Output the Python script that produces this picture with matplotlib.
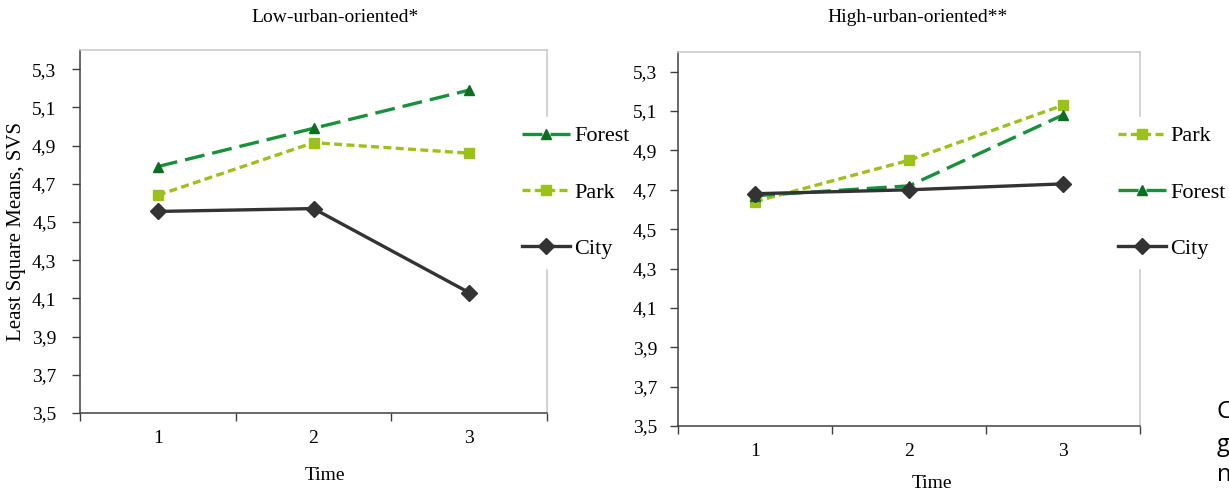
import numpy as np
import matplotlib; matplotlib.use("Agg")
import matplotlib.pyplot as plt
from matplotlib.ticker import FuncFormatter

plt.rcParams["font.family"] = ["Liberation Serif", "DejaVu Serif"]

times = [1, 2, 3]
low_forest = [4.79, 4.99, 5.19]
low_park = [4.64, 4.915, 4.86]
low_city = [4.555, 4.57, 4.13]
high_park = [4.64, 4.85, 5.13]
high_forest = [4.67, 4.72, 5.08]
high_city = [4.68, 4.70, 4.73]
yticks = [3.5, 3.7, 3.9, 4.1, 4.3, 4.5, 4.7, 4.9, 5.1, 5.3]

FOREST = "#17913a"; FOREST_MK = "#0d6e22"
PARK = "#9dc11c"; CITY = "#333333"
W, H = 1229, 492

def style(name):
    if name == "Forest":
        return dict(color=FOREST, lw=2.4, dashes=(6, 2.4), marker="^", ms=7,
                    mfc=FOREST_MK, mec=FOREST_MK)
    if name == "Park":
        return dict(color=PARK, lw=2.4, dashes=(2.4, 1.3), marker="s", ms=7.5,
                    mfc=PARK, mec=PARK)
    return dict(color=CITY, lw=2.4, marker="D", ms=8, mfc=CITY, mec=CITY)

def panel(px, series, ylab, leg_xy, ypad):
    # px = (left, top, right, bottom) of the plot box in figure pixels
    l, t, r, b = px
    ax = fig.add_axes([l / W, 1 - b / H, (r - l) / W, (b - t) / H])
    for name, vals in series:
        ax.plot(times, vals, label=name, **style(name))
    ax.set_xlim(0.5, 3.5); ax.set_ylim(3.5, 5.4)
    ax.set_yticks(yticks)
    ax.yaxis.set_major_formatter(FuncFormatter(lambda v, p: f"{v:.1f}".replace(".", ",")))
    ax.set_xticks([0.5, 1.5, 2.5, 3.5]); ax.set_xticklabels([])
    ax.set_xticks(times, minor=True); ax.set_xticklabels(["1", "2", "3"], minor=True)
    ax.tick_params(axis="x", which="major", direction="out", length=6, width=1, color="#404040")
    ax.tick_params(axis="x", which="minor", length=0, labelsize=14, pad=12)
    ax.tick_params(axis="y", direction="out", length=6, width=1, color="#404040",
                   labelsize=14, pad=ypad)
    for s in ("left", "bottom"):
        ax.spines[s].set_color("#404040"); ax.spines[s].set_linewidth(1.1)
    for s in ("top", "right"):
        ax.spines[s].set_color("#c8c8c8"); ax.spines[s].set_linewidth(1.1)
    if ylab:
        ax.set_ylabel(ylab, fontsize=15)
        ax.yaxis.set_label_coords((26 - l) / (r - l), 0.5)
    ax.legend(loc="upper left", bbox_to_anchor=(leg_xy[0] / W, 1 - leg_xy[1] / H),
              bbox_transform=fig.transFigure, frameon=True, fancybox=False,
              edgecolor="white", framealpha=1, fontsize=16, handlelength=2.15,
              handletextpad=0.2, labelspacing=1.6, borderpad=0.4, borderaxespad=0)
    return ax

fig = plt.figure(figsize=(W / 100, H / 100), dpi=100)

panel((80, 50, 547, 413),
      [("Forest", low_forest), ("Park", low_park), ("City", low_city)],
      "Least Square Means, SVS", (513, 117), 11)
panel((678, 52, 1140, 426),
      [("Park", high_park), ("Forest", high_forest), ("City", high_city)],
      None, (1109, 117), 9)

fig.text(335 / W, 1 - 17 / H, "Low-urban-oriented*", ha="center", va="center", fontsize=14)
fig.text(918 / W, 1 - 17 / H, "High-urban-oriented**", ha="center", va="center", fontsize=14)
fig.text(325 / W, 1 - 475 / H, "Time", ha="center", va="center", fontsize=14)
fig.text(932 / W, 1 - 484 / H, "Time", ha="center", va="center", fontsize=14)

for y, ch in [(412, "C"), (445, "g"), (475, "n")]:
    fig.text(1217 / W, 1 - y / H, ch, ha="left", va="center", fontsize=17,
             family=["Open Sans", "DejaVu Sans"])

fig.savefig("out.png", dpi=100)
